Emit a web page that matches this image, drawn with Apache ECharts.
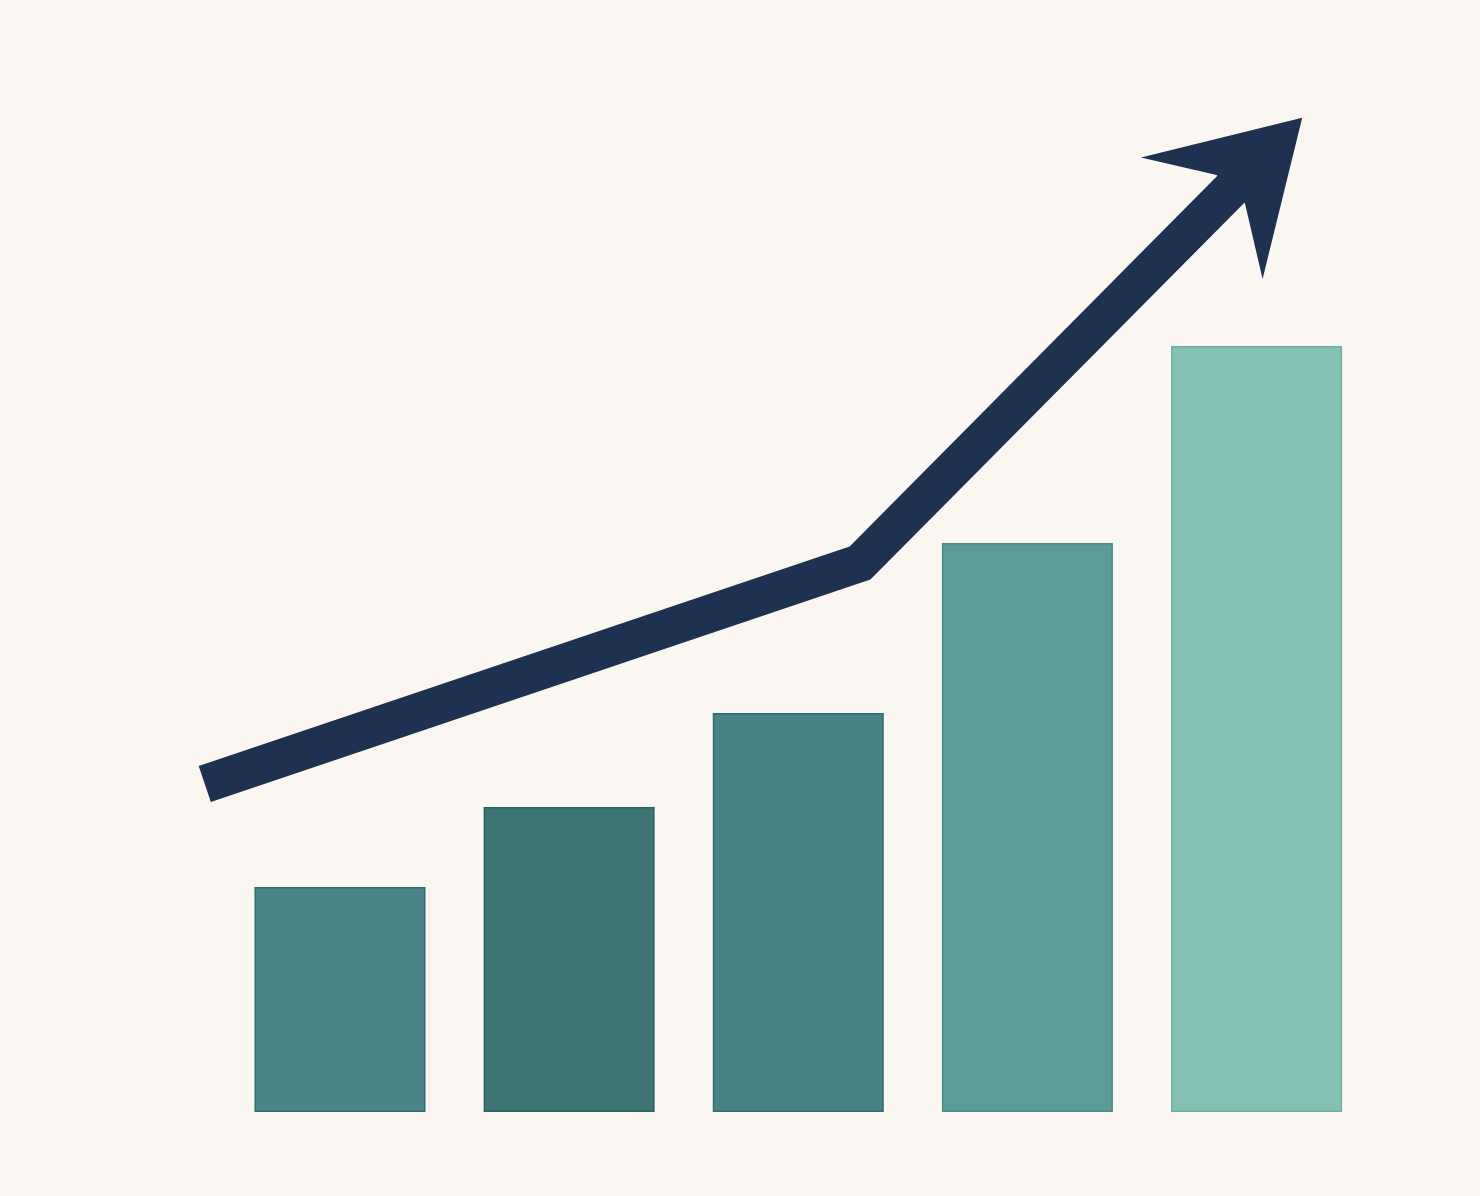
<!DOCTYPE html>
<html>
<head>
<meta charset="utf-8">
<title>增长图</title>
<script src="https://cdn.jsdelivr.net/npm/echarts@6/dist/echarts.min.js"></script>
<style>
    html, body { margin: 0; padding: 0; background: #faf6f2; }
    #main { width: 1480px; height: 1196px; }
</style>
</head>
<body>
<div id="main"></div>
<script type="text/javascript">
    // 柱子数据
    var categories = ['1', '2', '3', '4', '5'];
    var barValues = [22.5, 30.5, 39.9, 56.9, 76.6];

    // 趋势箭头 (x 以柱子序号为单位, 0..5)
    var trendX = [-0.09, 2.77, 4.48];
    var trendY = [32.8, 54.9, 94.4];

    var barColors = ['#4a8388', '#3d7575', '#488387', '#5b9c9a', '#85c0b4'];
    var barBorders = ['#2f6d70', '#2a6464', '#2f6f72', '#4a8c88', '#6eae9f'];

    var myChart = echarts.init(document.getElementById('main'));

    var bars = barValues.map(function (v, i) {
        return {
            value: v,
            itemStyle: { color: barColors[i], borderColor: barBorders[i], borderWidth: 1.5 }
        };
    });
    var linePts = trendX.map(function (x, i) { return [x, trendY[i]]; });
    var head = [linePts[linePts.length - 1]];

    // 每根柱子占 229.15px, 箭头用的网格向左多留半格
    var band = 229.15;
    var option = {
        backgroundColor: '#faf6f2',
        animation: false,
        grid: [
            { left: 225.4, right: 108.85, top: 112, bottom: 84 },
            { left: 225.4 - band * 0.5, right: 108.85, top: 112, bottom: 84 }
        ],
        xAxis: [
            { type: 'category', data: categories, show: false, gridIndex: 0 },
            { type: 'value', min: -0.5, max: 5, show: false, gridIndex: 1 }
        ],
        yAxis: [
            { type: 'value', min: 0, max: 100, show: false, gridIndex: 0 },
            { type: 'value', min: 0, max: 100, show: false, gridIndex: 1 }
        ],
        series: [
            {
                type: 'bar',
                data: bars,
                barWidth: 171,
                silent: true
            },
            {
                type: 'line',
                xAxisIndex: 1,
                yAxisIndex: 1,
                data: linePts,
                symbol: 'none',
                clip: false,
                silent: true,
                lineStyle: { color: '#1f3150', width: 38, cap: 'butt', join: 'miter' },
                z: 3
            },
            {
                type: 'scatter',
                xAxisIndex: 1,
                yAxisIndex: 1,
                data: head,
                clip: false,
                silent: true,
                symbol: 'path://M0,0 L86,142 L20,101 L-20,101 L-86,142 Z',
                symbolSize: [172, 142],
                symbolRotate: -45,
                itemStyle: { color: '#1f3150', opacity: 1 },
                z: 4
            }
        ]
    };

    myChart.setOption(option);
</script>
</body>
</html>
